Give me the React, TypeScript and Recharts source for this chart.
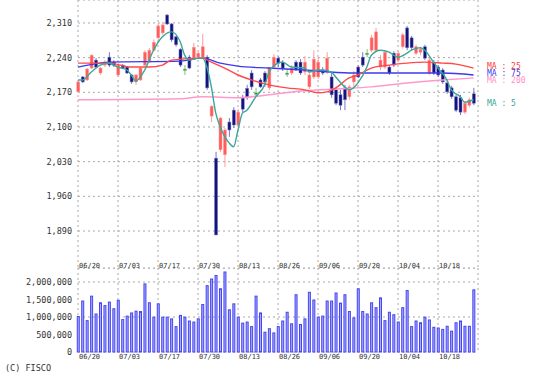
import React from 'react';
import { ComposedChart, Bar, Line, XAxis, YAxis, CartesianGrid } from 'recharts';

// trading days 2019-06-20 .. 2019-10-31, one entry per day
const tickIdx = [0, 9, 18, 27, 36, 45, 54, 63, 72, 81];
const tickLabels = ['06/20', '07/03', '07/17', '07/30', '08/13', '08/26', '09/06', '09/20', '10/04', '10/18'];

const priceTicks = [1890, 1960, 2030, 2100, 2170, 2240, 2310];
const volTicks = [0, 500000, 1000000, 1500000, 2000000];

const opens = [
  2171, 2201, 2195, 2219, 2235, 2209, 2225, 2241, 2231, 2205,
  2225, 2221, 2205, 2191, 2195, 2225, 2231, 2255, 2280, 2290,
  2326, 2308, 2282, 2257, 2217, 2241, 2239, 2241, 2241, 2241,
  2122, 2037, 2054, 2044, 2110, 2134, 2104, 2160, 2178, 2209,
  2169, 2195, 2209, 2179, 2221, 2239, 2231, 2209, 2209, 2231,
  2231, 2211, 2181, 2201, 2201, 2215, 2211, 2201, 2175, 2165,
  2179, 2161, 2191, 2221, 2241, 2249, 2255, 2255, 2221, 2221,
  2221, 2249, 2235, 2262, 2300, 2280, 2249, 2251, 2262, 2209,
  2231, 2221, 2215, 2189, 2179, 2161, 2159, 2130, 2144, 2167,
];
const highs = [
  2195, 2203, 2219, 2247, 2239, 2221, 2235, 2251, 2235, 2229,
  2227, 2223, 2207, 2207, 2221, 2255, 2259, 2277, 2310, 2312,
  2328, 2310, 2284, 2259, 2225, 2245, 2270, 2253, 2288, 2245,
  2144, 2050, 2120, 2098, 2118, 2140, 2136, 2165, 2185, 2215,
  2179, 2199, 2213, 2221, 2247, 2243, 2235, 2217, 2225, 2235,
  2237, 2243, 2211, 2255, 2241, 2221, 2251, 2209, 2181, 2175,
  2185, 2185, 2213, 2225, 2251, 2257, 2286, 2300, 2245, 2255,
  2225, 2253, 2253, 2290, 2304, 2284, 2266, 2262, 2266, 2241,
  2235, 2225, 2219, 2193, 2183, 2165, 2165, 2152, 2159, 2179,
];
const lows = [
  2169, 2189, 2193, 2217, 2219, 2205, 2221, 2221, 2221, 2201,
  2217, 2207, 2187, 2185, 2193, 2221, 2229, 2253, 2276, 2286,
  2306, 2272, 2262, 2221, 2205, 2217, 2237, 2237, 2237, 2175,
  2110, 1882, 2050, 2019, 2080, 2098, 2100, 2130, 2155, 2175,
  2161, 2179, 2181, 2175, 2219, 2221, 2213, 2201, 2205, 2213,
  2205, 2205, 2177, 2197, 2197, 2205, 2207, 2159, 2144, 2134,
  2134, 2155, 2181, 2199, 2221, 2241, 2251, 2251, 2215, 2217,
  2205, 2221, 2231, 2258, 2255, 2255, 2245, 2245, 2235, 2205,
  2205, 2201, 2187, 2167, 2157, 2130, 2124, 2126, 2140, 2144,
];
const closes = [
  2191, 2191, 2217, 2245, 2221, 2219, 2231, 2225, 2225, 2225,
  2219, 2209, 2191, 2205, 2219, 2251, 2255, 2271, 2304, 2306,
  2308, 2276, 2266, 2225, 2217, 2219, 2261, 2249, 2262, 2179,
  2142, 1882, 2118, 2094, 2094, 2104, 2130, 2136, 2160, 2181,
  2169, 2181, 2191, 2219, 2241, 2229, 2219, 2209, 2219, 2215,
  2209, 2231, 2205, 2237, 2231, 2209, 2239, 2165, 2148, 2144,
  2155, 2181, 2205, 2201, 2225, 2249, 2280, 2292, 2235, 2251,
  2209, 2225, 2249, 2286, 2260, 2260, 2262, 2257, 2239, 2235,
  2209, 2205, 2191, 2171, 2161, 2134, 2130, 2148, 2155, 2148,
];
const volumes = [
  1030000, 1470000, 910000, 1610000, 1100000, 1420000, 1340000, 1440000, 1250000, 1490000,
  940000, 1040000, 1130000, 1180000, 1170000, 1960000, 1420000, 1010000, 1390000, 1010000,
  1010000, 960000, 740000, 1060000, 1010000, 900000, 870000, 960000, 1370000, 1910000,
  2100000, 2200000, 1820000, 2300000, 1220000, 1390000, 1010000, 840000, 870000, 740000,
  1610000, 1130000, 580000, 680000, 560000, 740000, 900000, 1150000, 820000, 1650000,
  800000, 960000, 1720000, 1500000, 1010000, 1040000, 1470000, 1470000, 1700000, 1410000,
  1650000, 1170000, 990000, 1820000, 1170000, 1100000, 1420000, 1280000, 1560000, 910000,
  1150000, 1080000, 870000, 1280000, 1770000, 740000, 900000, 850000, 1010000, 930000,
  720000, 700000, 660000, 750000, 610000, 850000, 900000, 750000, 750000, 1790000,
];

// moving averages, read at points along each line
const ma5Idx = [0, 1, 3, 5, 7, 8, 9, 11, 12, 13, 15, 17, 19, 21, 23, 24, 25, 27, 28, 29, 30, 31, 32, 34, 35, 36, 37, 38, 40, 42, 43, 45, 46, 48, 51, 52, 54, 55, 57, 58, 60, 61, 62, 63, 65, 66, 68, 70, 71, 72, 74, 75, 77, 78, 80, 81, 83, 84, 86, 87, 89];
const ma5Val = [2195, 2195, 2211, 2225, 2229, 2225, 2221, 2215, 2205, 2193, 2215, 2255, 2282, 2292, 2272, 2245, 2235, 2239, 2239, 2221, 2181, 2128, 2100, 2068, 2060, 2094, 2128, 2134, 2161, 2185, 2211, 2229, 2231, 2221, 2219, 2211, 2215, 2215, 2211, 2201, 2181, 2175, 2179, 2189, 2221, 2245, 2255, 2251, 2245, 2241, 2249, 2255, 2260, 2255, 2231, 2219, 2195, 2175, 2161, 2150, 2155];
const ma25Idx = [0, 7, 12, 16, 19, 21, 28, 30, 33, 36, 39, 43, 47, 51, 54, 56, 58, 61, 63, 66, 70, 74, 78, 82, 85, 89];
const ma25Val = [2229, 2229, 2221, 2221, 2225, 2235, 2239, 2231, 2219, 2205, 2195, 2185, 2179, 2175, 2169, 2171, 2179, 2199, 2205, 2219, 2225, 2229, 2231, 2229, 2227, 2219];
const ma75Idx = [0, 5, 7, 23, 28, 32, 36, 43, 51, 61, 74, 82, 89];
const ma75Val = [2221, 2229, 2231, 2233, 2239, 2229, 2223, 2219, 2215, 2209, 2209, 2209, 2205];
const ma200Idx = [0, 23, 28, 36, 43, 51, 59, 66, 74, 82, 89];
const ma200Val = [2155, 2157, 2161, 2159, 2165, 2173, 2177, 2181, 2189, 2195, 2199];

const candles = opens.map((o, i) => ({ i, o, h: highs[i], l: lows[i], c: closes[i], range: [lows[i], highs[i]] }));
const volData = volumes.map((v, i) => ({ i, v }));
const toLine = (idx: number[], vals: number[]) => idx.map((i, k) => ({ i, v: vals[k] }));

const MONO = 'DejaVu Sans Mono, monospace';
const GRID = '#a8a8a8';

const Candle = (props: any) => {
  const { x, y, width, height, payload } = props;
  if (!payload) return null;
  const { o, h, l, c } = payload;
  const top = Math.min(y, y + height);
  const bot = Math.max(y, y + height);
  const span = h - l || 1;
  const py = (v: number) => top + ((h - v) / span) * (bot - top);
  const cx = x + width / 2;
  const color = c === o ? '#2f8f3a' : c > o ? '#ff5c5c' : '#13137e';
  const edge = c === o ? '#7fbf85' : c > o ? '#ff9c9c' : '#7676c4';
  const bTop = py(Math.max(o, c));
  const bBot = py(Math.min(o, c));
  return (
    <g>
      <line x1={cx} x2={cx} y1={top} y2={bot} stroke={edge} strokeWidth={1} />
      <rect x={cx - 1.5} y={bTop} width={3} height={Math.max(bBot - bTop, 1.5)} fill={color} stroke={edge} strokeWidth={0.5} />
    </g>
  );
};

// volume bar: 3px wide outlined rectangle
const VolBar = (props: any) => {
  const { x, y, width, height } = props;
  const cx = x + width / 2;
  if (!height) return null;
  return <rect x={cx - 1} y={y + 0.5} width={2} height={Math.max(height - 0.5, 0)} fill="#a8a8ff" stroke="#4646f0" strokeWidth={1} />;
};

const dateTick = (offset: number) => (props: any) => {
  const { x, y, payload } = props;
  const k = tickIdx.indexOf(payload.value);
  return (
    <text x={x + 1} y={y + offset} fontSize={7} fontFamily={MONO} fill="#333" textAnchor="start">
      {k >= 0 ? tickLabels[k] : ''}
    </text>
  );
};

const fmt = (v: number) => v.toLocaleString('en-US');
const tickStyle = { fontSize: 8.5, fontFamily: MONO, fill: '#333' };

const legend = [
  { text: 'MA : 25', color: '#ff3b3b', top: 63 },
  { text: 'MA : 75', color: '#3a3af0', top: 70 },
  { text: 'MA : 200', color: '#ff8fc6', top: 77 },
  { text: 'MA : 5', color: '#3aa898', top: 100 },
];

export default function App() {
  return (
    <div style={{ position: 'absolute', left: 0, top: 0, width: 538, height: 379, background: '#fff', overflow: 'hidden' }}>
      <div style={{ position: 'absolute', left: 0, top: 0 }}>
        <ComposedChart width={538} height={280} data={candles} margin={{ top: 0, right: 60, left: 0, bottom: 0 }}>
          <CartesianGrid stroke={GRID} strokeDasharray="2 3" />
          <XAxis
            type="number"
            dataKey="i"
            domain={[0, 90]}
            ticks={tickIdx}
            height={12}
            axisLine={false}
            tickLine={false}
            tickSize={0}
            tickMargin={0}
            tick={dateTick(0)}
          />
          <YAxis
            type="number"
            width={78}
            domain={[1815.3, 2356.4]}
            ticks={priceTicks}
            tickFormatter={fmt}
            axisLine={false}
            tickLine={false}
            tickSize={0}
            tickMargin={6}
            tick={tickStyle}
          />
          <Bar dataKey="range" barSize={3} shape={<Candle />} isAnimationActive={false} />
          <Line data={toLine(ma200Idx, ma200Val)} dataKey="v" type="monotone" stroke="#ff99cc" strokeWidth={1.5} dot={false} isAnimationActive={false} />
          <Line data={toLine(ma75Idx, ma75Val)} dataKey="v" type="monotone" stroke="#3a3af0" strokeWidth={1.4} dot={false} isAnimationActive={false} />
          <Line data={toLine(ma25Idx, ma25Val)} dataKey="v" type="monotone" stroke="#ff4848" strokeWidth={1.4} dot={false} isAnimationActive={false} />
          <Line data={toLine(ma5Idx, ma5Val)} dataKey="v" type="monotone" stroke="#3aa898" strokeWidth={1.4} dot={false} isAnimationActive={false} />
        </ComposedChart>
      </div>
      <div style={{ position: 'absolute', left: 0, top: 268 }}>
        <ComposedChart width={538} height={96} data={volData} margin={{ top: 0, right: 60, left: 0, bottom: 0 }}>
          <CartesianGrid stroke={GRID} strokeDasharray="2 3" />
          <XAxis
            type="number"
            dataKey="i"
            domain={[0, 90]}
            ticks={tickIdx}
            height={12}
            axisLine={false}
            tickLine={false}
            tickSize={0}
            tickMargin={0}
            tick={dateTick(7)}
          />
          <YAxis
            type="number"
            width={78}
            domain={[0, 2400000]}
            ticks={volTicks}
            tickFormatter={fmt}
            axisLine={false}
            tickLine={false}
            tickSize={0}
            tickMargin={6}
            tick={tickStyle}
          />
          <Bar dataKey="v" barSize={3} shape={<VolBar />} isAnimationActive={false} />
        </ComposedChart>
      </div>
      {legend.map((m) => (
        <div key={m.text} style={{ position: 'absolute', left: 487, top: m.top, fontFamily: MONO, fontSize: 8, lineHeight: '8px', color: m.color, whiteSpace: 'pre' }}>
          {m.text}
        </div>
      ))}
      <div style={{ position: 'absolute', left: 5, top: 363, fontFamily: MONO, fontSize: 8.5, lineHeight: '10px', color: '#333' }}>
        (C) FISCO
      </div>
    </div>
  );
}
